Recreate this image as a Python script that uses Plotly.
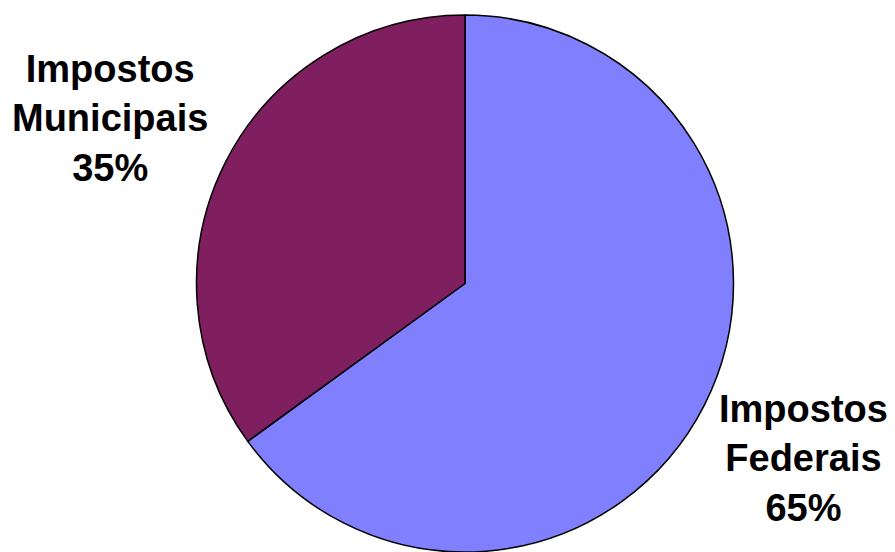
import plotly.graph_objects as go

labels = ["Impostos Federais", "Impostos Municipais"]
values = [65, 35]
colors = ["#8080FF", "#7F1F5F"]
label_texts = ["Impostos<br>Federais<br>65%", "Impostos<br>Municipais<br>35%"]

W, H = 895, 552

fig = go.Figure(go.Pie(
    labels=labels,
    values=values,
    sort=False,
    direction="clockwise",
    rotation=0,
    marker=dict(colors=colors, line=dict(color="black", width=1.5)),
    textinfo="none",
    hoverinfo="label+percent",
    domain=dict(x=[195 / W, 735 / W], y=[0, 1 - 15 / H]),
    showlegend=False,
))

font = dict(family="Liberation Sans, Arial, sans-serif", size=38, color="black")
fig.add_annotation(x=110 / W, y=1 - 118 / H, xref="paper", yref="paper",
                   text="<b>" + label_texts[1].replace("<br>", "</b><br><b>") + "</b>",
                   showarrow=False, font=font, align="center", xanchor="center", yanchor="middle")
fig.add_annotation(x=803 / W, y=1 - 458 / H, xref="paper", yref="paper",
                   text="<b>" + label_texts[0].replace("<br>", "</b><br><b>") + "</b>",
                   showarrow=False, font=font, align="center", xanchor="center", yanchor="middle")

fig.update_layout(
    width=W, height=H,
    margin=dict(l=0, r=0, t=0, b=0),
    paper_bgcolor="white", plot_bgcolor="white",
)

fig.write_html("out.html")
